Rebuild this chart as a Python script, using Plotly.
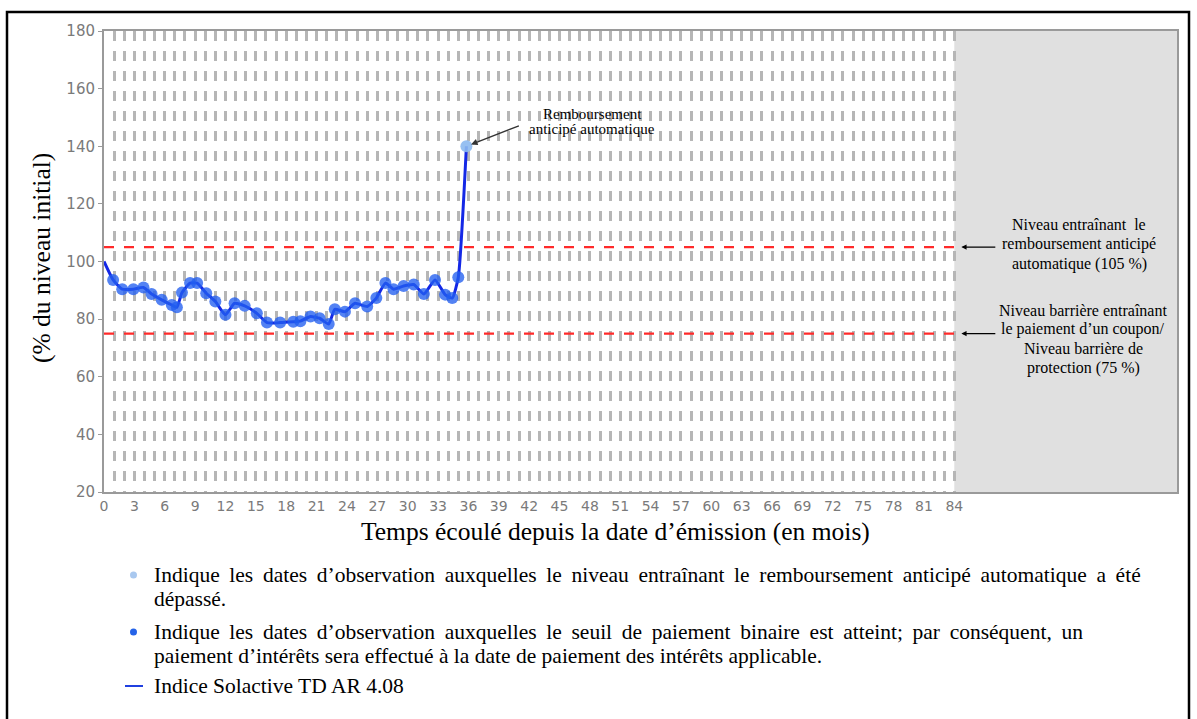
import plotly.graph_objects as go

# ---------------- data ----------------
months = [0, 0.9, 1.8, 2.9, 3.9, 4.7, 5.7, 6.7, 7.2, 7.7, 8.5, 9.2, 10.1, 11, 12, 12.9, 13.9,
          15.1, 16.1, 17.4, 18.7, 19.4, 20.4, 21.3, 22.2, 22.8, 23.8, 24.8, 26, 26.9, 27.8,
          28.6, 29.6, 30.6, 31.6, 32.7, 33.7, 34.4, 35, 35.8]
index_level = [100, 93.6, 90.4, 90.4, 91, 88.7, 86.7, 84.9, 84.1, 89.2, 92.5, 92.5, 89, 86.1,
               81.5, 85.5, 84.6, 82, 78.8, 78.8, 79.1, 79.3, 80.9, 80.3, 78.3, 83.4, 82.6,
               85.5, 84.4, 87.3, 92.5, 90.4, 91.5, 92, 88.7, 93.6, 88.5, 87.3, 94.5, 140]
coupon_x = months[1:-1]
coupon_y = index_level[1:-1]
autocall_x = [months[-1]]
autocall_y = [index_level[-1]]

autocall_level = 105
barrier_level = 75
term_months = 84
x_max = 106
tick_vals_x = list(range(0, term_months + 1))
tick_labels_x = [str(m) if m % 3 == 0 else "" for m in tick_vals_x]
tick_vals_y = list(range(20, 181, 20))

# ---------------- layout helpers (pixel -> paper) ----------------
L, R, T, B = 104, 1177, 31, 492


def PX(px):
    return (px - L) / (R - L)


def PY(py):
    return (B - py) / (B - T)


serif = "Liberation Serif"
fig = go.Figure()

# barrier lines
for lvl in (autocall_level, barrier_level):
    fig.add_trace(go.Scatter(x=[0, term_months], y=[lvl, lvl], mode="lines",
                             line=dict(color="#ff2a2a", width=2.2, dash="10px,10px"),
                             hoverinfo="skip", showlegend=False))

# index line
fig.add_trace(go.Scatter(x=months, y=index_level, mode="lines",
                         line=dict(color="#1428e6", width=3, shape="spline", smoothing=0.5),
                         showlegend=False))
# coupon observation markers
fig.add_trace(go.Scatter(x=coupon_x, y=coupon_y, mode="markers",
                         marker=dict(color="rgba(35,95,240,0.78)", size=12, line=dict(width=0)),
                         showlegend=False))
# autocall marker
fig.add_trace(go.Scatter(x=autocall_x, y=autocall_y, mode="markers",
                         marker=dict(color="rgba(140,185,240,0.9)", size=12, line=dict(width=0)),
                         showlegend=False))

shapes = [
    dict(type="rect", xref="x", yref="y", x0=term_months, x1=x_max, y0=20, y1=180,
         fillcolor="#e0e0e0", line=dict(width=0), layer="below"),
    dict(type="rect", xref="paper", yref="paper", x0=PX(7), x1=PX(1189), y0=PY(760), y1=PY(12),
         line=dict(color="black", width=2.5), fillcolor="rgba(0,0,0,0)"),
    dict(type="circle", xref="paper", yref="paper", x0=PX(130), x1=PX(137), y0=PY(578.5), y1=PY(571.5),
         fillcolor="#a9c8ef", line=dict(width=0)),
    dict(type="circle", xref="paper", yref="paper", x0=PX(130), x1=PX(137), y0=PY(635.5), y1=PY(628.5),
         fillcolor="#2563e8", line=dict(width=0)),
    dict(type="line", xref="paper", yref="paper", x0=PX(125), x1=PX(143), y0=PY(686), y1=PY(686),
         line=dict(color="#2040e0", width=2)),
]

ann = []


def text_line(txt, px, py, size, xanchor="center"):
    ann.append(dict(text=txt, xref="paper", yref="paper", x=PX(px), y=PY(py),
                    xanchor=xanchor, yanchor="middle", showarrow=False,
                    font=dict(family=serif, size=size, color="black")))


def justify(txt):
    # widen word spacing to mimic the justified lines of the original
    return txt.replace(" ", " \u2009")


# axis titles
text_line("Temps écoulé depuis la date d’émission (en mois)", 615, 531, 25.5)
ann.append(dict(text="(% du niveau initial)", xref="paper", yref="paper", textangle=-90,
                x=PX(41), y=PY(258), xanchor="center", yanchor="middle", showarrow=False,
                font=dict(family=serif, size=25.5, color="black")))

# autocall annotation
ann.append(dict(text="", x=autocall_x[0], y=autocall_y[0], xref="x", yref="y",
                ax=54, ay=-21, showarrow=True, arrowhead=2, arrowsize=1, standoff=5,
                arrowwidth=1.3, arrowcolor="#333"))
text_line("Remboursement", 592, 114, 15)
text_line("anticipé automatique", 592, 129, 15)

# right annotations
for i, t in enumerate(["Niveau entraînant \u00a0le", "remboursement anticipé", "automatique (105 %)"]):
    text_line(t, 1079, 224 + i * 20, 16)
for i, t in enumerate(["Niveau barrière entraînant", "le paiement d’un coupon/",
                       "Niveau barrière de", "protection (75 %)"]):
    text_line(t, 1083, 310 + i * 19.4, 16)
for lvl in (autocall_level, barrier_level):
    ann.append(dict(text="", x=term_months + 0.7, y=lvl, xref="x", yref="y", ax=term_months + 4.2,
                    ay=lvl, axref="x", ayref="y", showarrow=True, arrowhead=2, arrowsize=0.8,
                    arrowwidth=1.3, arrowcolor="black"))

# legend texts
LS = 21.5
text_line(justify("Indique les dates d’observation auxquelles le niveau entraînant le remboursement anticipé automatique a été"),
          152, 575, LS, "left")
text_line("dépassé.", 152, 599, LS, "left")
text_line(justify("Indique les dates d’observation auxquelles le seuil de paiement binaire est atteint; par conséquent, un"),
          152, 632, LS, "left")
text_line("paiement d’intérêts sera effectué à la date de paiement des intérêts applicable.", 152, 656, LS, "left")
text_line("Indice Solactive TD AR 4.08", 152, 686, LS, "left")

fig.update_layout(
    width=1197, height=719, autosize=False,
    margin=dict(l=L, r=1197 - R, t=T, b=719 - B, pad=0),
    plot_bgcolor="white", paper_bgcolor="white",
    shapes=shapes, annotations=ann, showlegend=False,
    xaxis=dict(range=[0, x_max], tickvals=tick_vals_x, ticktext=tick_labels_x, ticks="",
               showgrid=True, gridcolor="#b6b6b6", gridwidth=2.5, griddash="10px,10px",
               showline=True, linecolor="#9a9a9a", linewidth=2, mirror=True, zeroline=False,
               tickfont=dict(family="DejaVu Sans", size=14, color="#7a7a7a"), tickangle=0),
    yaxis=dict(range=[20, 180], tickvals=tick_vals_y, ticks="outside", ticklen=4, tickcolor="#9a9a9a",
               showgrid=False, showline=True, linecolor="#9a9a9a", linewidth=2, mirror=True,
               zeroline=False, tickfont=dict(family="DejaVu Sans", size=15, color="#7a7a7a")),
)

fig.write_html("out.html", config={"displayModeBar": False},
               post_script="document.body.style.margin='0';")
